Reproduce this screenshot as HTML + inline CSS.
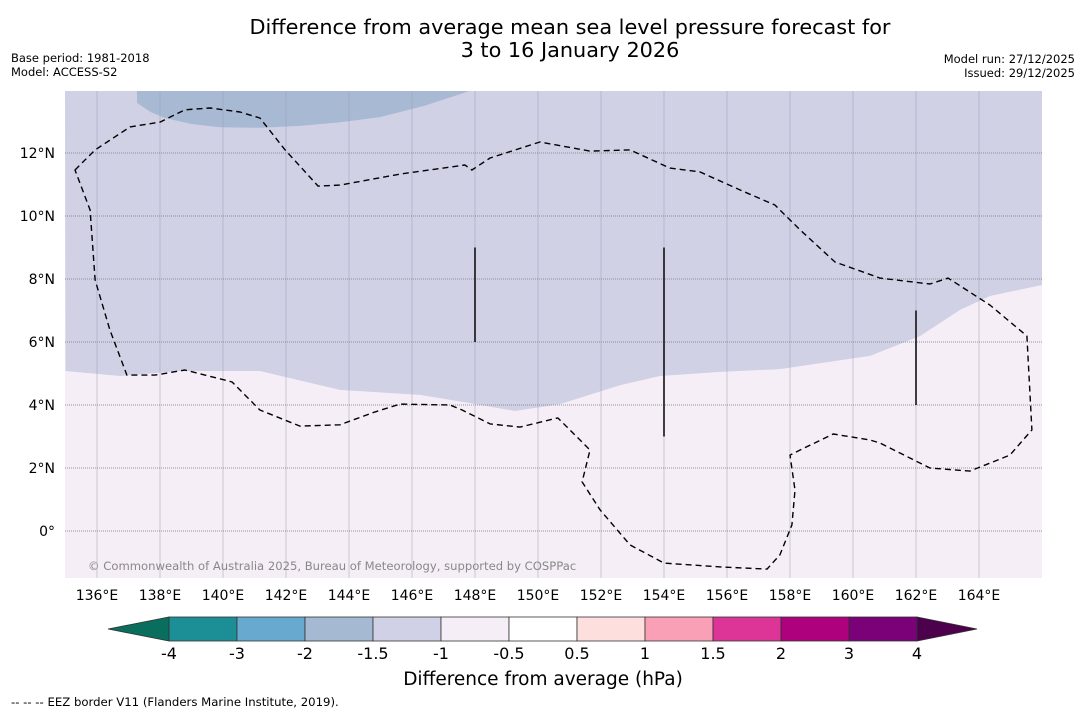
<!DOCTYPE html>
<html><head><meta charset="utf-8">
<style>
body{margin:0;background:#fff;width:1085px;height:713px;overflow:hidden;font-family:"DejaVu Sans","Liberation Sans",sans-serif;}
svg{display:block}
</style></head>
<body>
<svg id="chart" width="1085" height="713" xmlns="http://www.w3.org/2000/svg">
<text x="570" y="34" text-anchor="middle" font-size="20.8" fill="#000">Difference from average mean sea level pressure forecast for</text>
<text x="570" y="57" text-anchor="middle" font-size="20.8" fill="#000">3 to 16 January 2026</text>
<text x="11" y="62" font-size="11.5">Base period: 1981-2018</text>
<text x="11" y="76" font-size="11.5">Model: ACCESS-S2</text>
<text x="1075" y="63" font-size="11.5" text-anchor="end">Model run: 27/12/2025</text>
<text x="1075" y="77" font-size="11.5" text-anchor="end">Issued: 29/12/2025</text>
<g id="map"></g>
<g id="cbar"></g>
<text x="543" y="685" text-anchor="middle" font-size="18.5">Difference from average (hPa)</text>
<text x="11" y="706" font-size="11.7">--  --  -- EEZ border V11 (Flanders Marine Institute, 2019).</text>
</svg>
<script>
const lonTicks=[136,138,140,142,144,146,148,150,152,154,156,158,160,162,164];
const latTicks=[0,2,4,6,8,10,12];
const shadeBoundaryLon=[135.0,136.73,138.63,141.17,143.71,146.25,147.84,149.27,150.70,152.60,153.87,155.78,157.68,160.54,162.13,163.40,164.35,166.0];
const shadeBoundaryLat=[5.08,4.92,5.08,5.08,4.48,4.32,4.06,3.81,4.03,4.63,4.92,5.05,5.14,5.56,6.19,7.02,7.46,7.81];
const bluePatchLon=[137.27,137.27,137.7,138.16,139.0,139.9,141.2,142.44,143.7,144.98,146.4,147.84];
const bluePatchLat=[13.97,13.59,13.3,13.11,12.92,12.82,12.8,12.86,12.97,13.14,13.5,13.97];
const contourLon=[135.30,135.94,137.05,138.0,138.79,139.59,140.54,141.17,141.97,143.02,143.71,145.62,147.68,147.9,148.48,150.06,151.65,152.92,154.19,155.14,156.41,157.52,158.32,159.43,160.86,162.44,163.02,164.35,165.52,165.68,164.98,163.71,162.44,160.86,160.54,159.37,158.32,158.0,158.16,158.06,157.68,157.27,155.78,154.0,152.92,151.97,151.40,151.65,151.17,150.63,149.43,148.48,147.59,147.21,145.62,144.83,143.71,142.44,141.17,140.29,140.06,138.79,137.84,136.95,136.41,135.94,135.78];
const contourLat=[11.46,12.10,12.83,12.98,13.37,13.43,13.30,13.11,12.10,10.95,10.98,11.33,11.62,11.46,11.84,12.35,12.06,12.10,11.52,11.40,10.83,10.35,9.56,8.54,8.03,7.84,8.03,7.17,6.19,3.21,2.41,1.90,2.0,2.79,2.89,3.08,2.57,2.41,1.30,0.19,-0.76,-1.21,-1.14,-1.02,-0.44,0.67,1.56,2.57,3.05,3.59,3.30,3.40,3.84,4.0,4.03,3.78,3.37,3.33,3.84,4.73,4.79,5.11,4.95,4.95,6.38,7.97,10.19];
const segLon=[148,154,162];
const segLat0=[6,3,4];
const segLat1=[9,9,7];
const cbLabels=["-4","-3","-2","-1.5","-1","-0.5","0.5","1","1.5","2","3","4"];
const cbColors=["#1c8f96","#67a9cf","#a6b9d3","#d0d1e6","#f5eef6","#ffffff","#fde0dd","#f99fb6","#dc3597","#ae017e","#7a0177"];
const cbLow="#0a6e5e", cbHigh="#4d004b";

const X0=65,X1=1042,Y0=91,Y1=578;
function xs(lon){return 97+(lon-136)*31.5;}
function ys(lat){return 531-lat*31.5;}
const NS="http://www.w3.org/2000/svg";
function mk(tag,attrs,parent){const e=document.createElementNS(NS,tag);for(const k in attrs)e.setAttribute(k,attrs[k]);parent.appendChild(e);return e;}
const map=document.getElementById('map');
const defs=mk('defs',{},map);
const cp=mk('clipPath',{id:'clip'},defs);
mk('rect',{x:X0,y:Y0,width:X1-X0,height:Y1-Y0},cp);
const g=mk('g',{'clip-path':'url(#clip)'},map);
const bg=mk('rect',{x:X0,y:Y0,width:X1-X0,height:Y1-Y0,fill:'#f5eef6'},g);


let d='M'+X0+','+Y0;
for(let i=0;i<shadeBoundaryLon.length;i++)d+=' L'+xs(shadeBoundaryLon[i]).toFixed(1)+','+ys(shadeBoundaryLat[i]).toFixed(1);
d+=' L'+X1+','+Y0+' Z';
const lav=mk('path',{d:d,fill:'#d0d1e5'},g);


let d2='';
for(let i=0;i<bluePatchLon.length;i++)d2+=(i?' L':'M')+xs(bluePatchLon[i]).toFixed(1)+','+ys(bluePatchLat[i]).toFixed(1);
d2+=' Z';
const bp=mk('path',{d:d2,fill:'#a8b9d3'},g);


lonTicks.forEach(l=>{const ln=mk('line',{x1:xs(l),x2:xs(l),y1:Y0,y2:Y1,stroke:'#9a9fb5','stroke-width':0.7,opacity:0.7},g);

});
latTicks.forEach(l=>{const ln=mk('line',{x1:X0,x2:X1,y1:ys(l),y2:ys(l),stroke:'#777','stroke-width':0.8,'stroke-dasharray':'1,1'},g);

});
let d3='';
for(let i=0;i<contourLon.length;i++)d3+=(i?' L':'M')+xs(contourLon[i]).toFixed(1)+','+ys(contourLat[i]).toFixed(1);
d3+=' Z';
const ct=mk('path',{d:d3,fill:'none',stroke:'#000','stroke-width':1.4,'stroke-dasharray':'6,4','stroke-linejoin':'round'},g);


for(let i=0;i<segLon.length;i++){const s=mk('line',{x1:xs(segLon[i]),x2:xs(segLon[i]),y1:ys(segLat0[i]),y2:ys(segLat1[i]),stroke:'#111','stroke-width':1.6},g);

}
const cr=mk('text',{x:88,y:570,'font-size':11.6,fill:'#888'},g);cr.textContent='© Commonwealth of Australia 2025, Bureau of Meteorology, supported by COSPPac';


lonTicks.forEach(l=>{const t=mk('text',{x:xs(l),y:600,'text-anchor':'middle','font-size':14},map);t.textContent=l+'°E';

});
latTicks.forEach(l=>{const t=mk('text',{x:55,y:ys(l)+5,'text-anchor':'end','font-size':14},map);t.textContent=l===0?'0°':l+'°N';

});
const cb=document.getElementById('cbar');
const CX0=169,CW=68,CY=617,CH=24;
for(let i=0;i<cbColors.length;i++){const r=mk('rect',{x:CX0+i*CW,y:CY,width:CW,height:CH,fill:cbColors[i],stroke:'#333','stroke-width':0.8},cb);

}
const tl=mk('polygon',{points:`${CX0},${CY} ${CX0},${CY+CH} 108,${CY+CH/2}`,fill:cbLow,stroke:'#333','stroke-width':0.8},cb);


const xe=CX0+cbColors.length*CW;
const tr=mk('polygon',{points:`${xe},${CY} ${xe},${CY+CH} 977,${CY+CH/2}`,fill:cbHigh,stroke:'#333','stroke-width':0.8},cb);


cbLabels.forEach((s,i)=>{const t=mk('text',{x:CX0+i*CW,y:659,'text-anchor':'middle','font-size':16},cb);t.textContent=s;

});
</script>
</body></html>
